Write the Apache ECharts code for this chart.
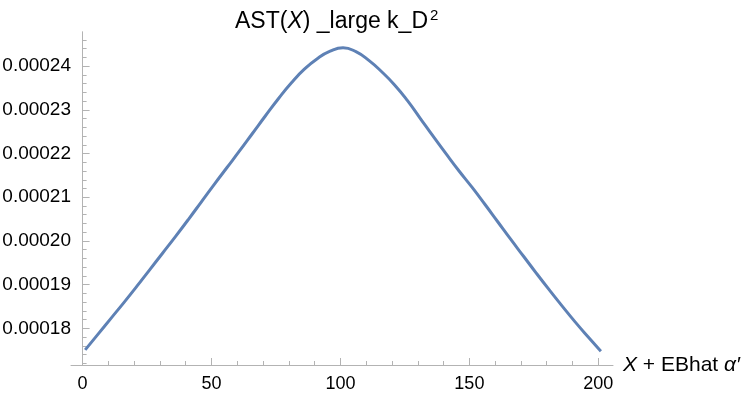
<!DOCTYPE html>
<html>
<head>
<meta charset="utf-8">
<script src="https://cdn.jsdelivr.net/npm/echarts@6/dist/echarts.min.js"></script>
<style>
  html, body { margin: 0; padding: 0; background: #fff; }
  #chart { width: 750px; height: 403px; }
</style>
</head>
<body>
<div id="chart"></div>
<script>
// values
var xs = [1, 6, 11, 16, 21, 26, 31, 36, 41, 46, 51, 56, 61, 66, 71, 76, 81, 86, 91, 96, 101,
          106, 111, 116, 121, 126, 131, 136, 141, 146, 151, 156, 161, 166, 171, 176, 181, 186, 191, 196, 201];
var ys = [0.0001751, 0.0001787, 0.0001823, 0.0001859, 0.0001896, 0.0001934, 0.0001972,
          0.0002010, 0.0002049, 0.0002089, 0.0002129, 0.0002168, 0.0002207, 0.0002247,
          0.0002287, 0.0002326, 0.0002362, 0.0002393, 0.0002417, 0.0002434, 0.0002442,
          0.0002433, 0.0002413, 0.0002387, 0.0002357, 0.0002321, 0.0002280, 0.0002239,
          0.0002199, 0.0002160, 0.0002123, 0.0002084, 0.0002044, 0.0002004, 0.0001965,
          0.0001926, 0.0001888, 0.0001851, 0.0001815, 0.0001781, 0.0001748];

var xMajor = [0, 50, 100, 150, 200];
var xMinor = [10, 20, 30, 40, 60, 70, 80, 90, 110, 120, 130, 140, 160, 170, 180, 190];
var yMajor = [0.00018, 0.00019, 0.00020, 0.00021, 0.00022, 0.00023, 0.00024];
var yMinor = [];
for (var k = 86; k <= 123; k++) {
    if (k % 5 !== 0) yMinor.push(k * 2e-6);
}

var xMin = -4.5, xMax = 205.7;
var yMin = 0.00017163, yMax = 0.0002478;

var axisColor = '#b3b3b3';
var fontFam = '"Liberation Sans", Arial, sans-serif';

var myChart = echarts.init(document.getElementById('chart'));

var option = {
    animation: false,
    title: {
        left: 230,
        top: 3,
        text: '{n|AST(}{i|X}{n|) _large k_D}{s|2}',
        textStyle: {
            fontWeight: 'normal',
            rich: {
                n: { fontSize: 23, fontFamily: fontFam, color: '#000', fontWeight: 'normal' },
                i: { fontSize: 23, fontFamily: fontFam, color: '#000', fontWeight: 'normal', fontStyle: 'italic' },
                s: { fontSize: 15, fontFamily: fontFam, color: '#000', fontWeight: 'normal', padding: [0, 0, 12, 2] }
            }
        }
    },
    grid: { left: 71, right: 137, top: 32, bottom: 38, containLabel: false, outerBoundsMode: 'none' },
    xAxis: [{
        type: 'value',
        min: xMin,
        max: xMax,
        name: '{i|X} + EBhat {i|α′}',
        nameLocation: 'end',
        nameGap: 10,
        nameTextStyle: {
            rich: {
                i: { fontSize: 21, fontFamily: fontFam, color: '#000', fontStyle: 'italic' }
            },
            fontSize: 21, fontFamily: fontFam, color: '#000'
        },
        axisLine: { show: true, lineStyle: { color: axisColor, width: 1 } },
        axisTick: { show: true, inside: true, length: 7, customValues: xMajor, lineStyle: { color: axisColor } },
        axisLabel: { customValues: xMajor, fontSize: 18, fontFamily: fontFam, color: '#000', margin: 10 },
        splitLine: { show: false }
    }, {
        type: 'value',
        min: xMin,
        max: xMax,
        position: 'bottom',
        axisLine: { show: false },
        axisTick: { show: true, inside: true, length: 4, customValues: xMinor, lineStyle: { color: axisColor } },
        axisLabel: { show: false },
        splitLine: { show: false }
    }],
    yAxis: [{
        type: 'value',
        min: yMin,
        max: yMax,
        axisLine: { show: true, onZero: true, onZeroAxisIndex: 0, lineStyle: { color: axisColor, width: 1 } },
        axisTick: { show: true, inside: true, length: 7, customValues: yMajor, lineStyle: { color: axisColor } },
        axisLabel: {
            customValues: yMajor,
            fontSize: 19, fontFamily: fontFam, color: '#000', margin: 0,
            formatter: function (v) { return v.toFixed(5); }
        },
        splitLine: { show: false }
    }, {
        type: 'value',
        min: yMin,
        max: yMax,
        position: 'left',
        axisLine: { show: true, onZero: true, onZeroAxisIndex: 0, lineStyle: { color: axisColor, width: 1 } },
        axisTick: { show: true, inside: true, length: 4, customValues: yMinor, lineStyle: { color: axisColor } },
        axisLabel: { show: false },
        splitLine: { show: false }
    }],
    series: [{
        type: 'line',
        xAxisIndex: 0,
        yAxisIndex: 0,
        data: xs.map(function (x, i) { return [x, ys[i]]; }),
        smooth: true,
        showSymbol: false,
        lineStyle: { color: '#5e81b5', width: 3 }
    }]
};
myChart.setOption(option);
</script>
</body>
</html>
